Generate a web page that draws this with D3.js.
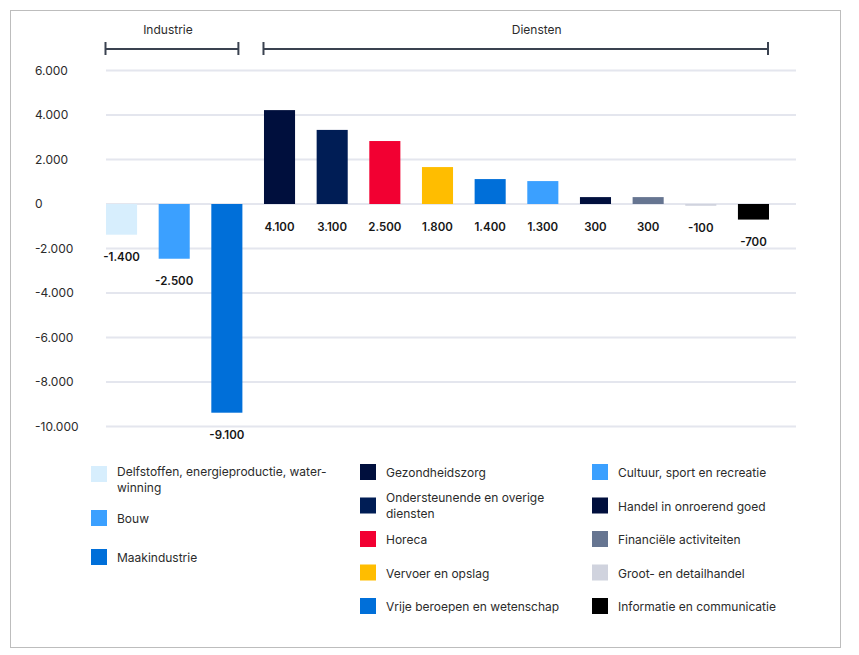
<!DOCTYPE html>
<html>
<head>
<meta charset="utf-8">
<script src="https://cdn.jsdelivr.net/npm/d3@7"></script>
<style>
  body { margin: 0; background: #fff; }
  svg { font-family: Inter, "Open Sans", sans-serif; }
</style>
</head>
<body>
<svg width="859" height="655"></svg>
<script>
var categories = [
    "Delfstoffen, energieproductie, water-winning", "Bouw", "Maakindustrie",
    "Gezondheidszorg", "Ondersteunende en overige diensten", "Horeca",
    "Vervoer en opslag", "Vrije beroepen en wetenschap", "Cultuur, sport en recreatie",
    "Handel in onroerend goed", "Financiële activiteiten", "Groot- en detailhandel",
    "Informatie en communicatie"
];
// bar heights as drawn in the picture
var values = [-1380, -2460, -9380, 4220, 3330, 2830, 1660, 1120, 1030, 310, 310, -80, -700];
// labels as printed under the bars
var valueLabels = ["-1.400", "-2.500", "-9.100", "4.100", "3.100", "2.500", "1.800",
    "1.400", "1.300", "300", "300", "-100", "-700"];
var colors = ["#d7eefd", "#3ba0ff", "#006fd9", "#000f3d", "#001d55", "#f20032",
    "#ffbd00", "#006fd9", "#3ba0ff", "#000f3d", "#667591", "#d0d3de", "#000000"];
var legendLines = [
    ["Delfstoffen, energieproductie, water-", "winning"], ["Bouw"], ["Maakindustrie"],
    ["Gezondheidszorg"], ["Ondersteunende en overige", "diensten"], ["Horeca"],
    ["Vervoer en opslag"], ["Vrije beroepen en wetenschap"], ["Cultuur, sport en recreatie"],
    ["Handel in onroerend goed"], ["Financiële activiteiten"], ["Groot- en detailhandel"],
    ["Informatie en communicatie"]
];
var groupNames = ["Industrie", "Diensten"];
var groupStart = [0, 3];
var groupEnd = [2, 12];
var yTicks = [6000, 4000, 2000, 0, -2000, -4000, -6000, -8000, -10000];

var svg = d3.select("svg");
var nl = d3.formatLocale({ decimal: ",", thousands: ".", grouping: [3], currency: ["€", ""], minus: "-" });
var fmt = nl.format(",d");

svg.append("rect")
    .attr("x", 10.5).attr("y", 10.5)
    .attr("width", 830).attr("height", 637)
    .attr("fill", "none").attr("stroke", "#bdbdbd");

var x = d3.scaleBand()
    .domain(categories)
    .range([106, 769])
    .paddingInner(0.41)
    .paddingOuter(0);

var y = d3.scaleLinear()
    .domain([-10000, 6000])
    .range([426.5, 70.5]);

// gridlines
svg.append("g")
    .selectAll("line")
    .data(yTicks)
    .enter().append("line")
    .attr("x1", 106).attr("x2", 796)
    .attr("y1", function (d) { return y(d); })
    .attr("y2", function (d) { return y(d); })
    .attr("stroke", "#e4e6ee")
    .attr("stroke-width", 2);

// y labels
svg.append("g")
    .selectAll("text")
    .data(yTicks)
    .enter().append("text")
    .attr("x", 35)
    .attr("y", function (d) { return y(d); })
    .attr("dy", "0.35em")
    .attr("font-size", 12)
    .attr("fill", "#2b2b2b")
    .text(function (d) { return fmt(d); });

// bars
svg.append("g")
    .selectAll("rect")
    .data(values)
    .enter().append("rect")
    .attr("x", function (d, i) { return x(categories[i]); })
    .attr("width", x.bandwidth())
    .attr("y", function (d) { return d >= 0 ? y(d) : y(0); })
    .attr("height", function (d) { return Math.abs(y(d) - y(0)); })
    .attr("fill", function (d, i) { return colors[i]; });

// value labels
svg.append("g")
    .selectAll("text")
    .data(values)
    .enter().append("text")
    .attr("x", function (d, i) { return x(categories[i]) + x.bandwidth() / 2; })
    .attr("y", function (d) { return (d >= 0 ? y(0) + 23 : y(d) + 22); })
    .attr("dy", "0.35em")
    .attr("text-anchor", "middle")
    .attr("font-size", 11.5)
    .attr("font-weight", 600)
    .attr("fill", "#161616")
    .text(function (d, i) { return valueLabels[i]; });

// group brackets
var bracketY = 49;
groupNames.forEach(function (name, g) {
    var x1 = x(categories[groupStart[g]]) - 0.5;
    var x2 = x(categories[groupEnd[g]]) + x.bandwidth() - (g === 0 ? 4 : 1);
    var b = svg.append("g").attr("stroke", "#3a4250").attr("stroke-width", 2);
    b.append("line").attr("x1", x1).attr("x2", x2).attr("y1", bracketY).attr("y2", bracketY);
    b.append("line").attr("x1", x1).attr("x2", x1).attr("y1", bracketY - 7).attr("y2", bracketY + 6);
    b.append("line").attr("x1", x2).attr("x2", x2).attr("y1", bracketY - 7).attr("y2", bracketY + 6);
    svg.append("text")
        .attr("x", g === 0 ? (x1 + x2) / 2 - 4 : (x1 + x2) / 2 + 21)
        .attr("y", 30)
        .attr("dy", "0.35em")
        .attr("text-anchor", "middle")
        .attr("font-size", 12)
        .attr("fill", "#2b2b2b")
        .text(name);
});

// legend
var colX = [91, 360, 592];
function legendPos(i) {
    if (i < 3) return { col: 0, top: [466, 510, 549][i] };
    var c = i < 8 ? 1 : 2;
    var r = i < 8 ? i - 3 : i - 8;
    return { col: c, top: 464 + r * 33.5 };
}
var legend = svg.append("g")
    .selectAll("g")
    .data(categories)
    .enter().append("g")
    .attr("transform", function (d, i) {
        var p = legendPos(i);
        return "translate(" + colX[p.col] + "," + p.top + ")";
    });

legend.append("rect")
    .attr("width", 16).attr("height", 16)
    .attr("fill", function (d, i) { return colors[i]; });

legend.append("text")
    .attr("x", 26)
    .attr("font-size", 12)
    .attr("fill", "#2b2b2b")
    .each(function (d, i) {
        var lines = legendLines[i];
        var t = d3.select(this);
        var firstY = lines.length === 1 ? 9 : (i === 0 ? 6 : 0.5);
        lines.forEach(function (l, k) {
            t.append("tspan")
                .attr("x", 26)
                .attr("y", firstY + k * 15.5)
                .attr("dy", "0.35em")
                .text(l);
        });
    });
</script>
</body>
</html>
